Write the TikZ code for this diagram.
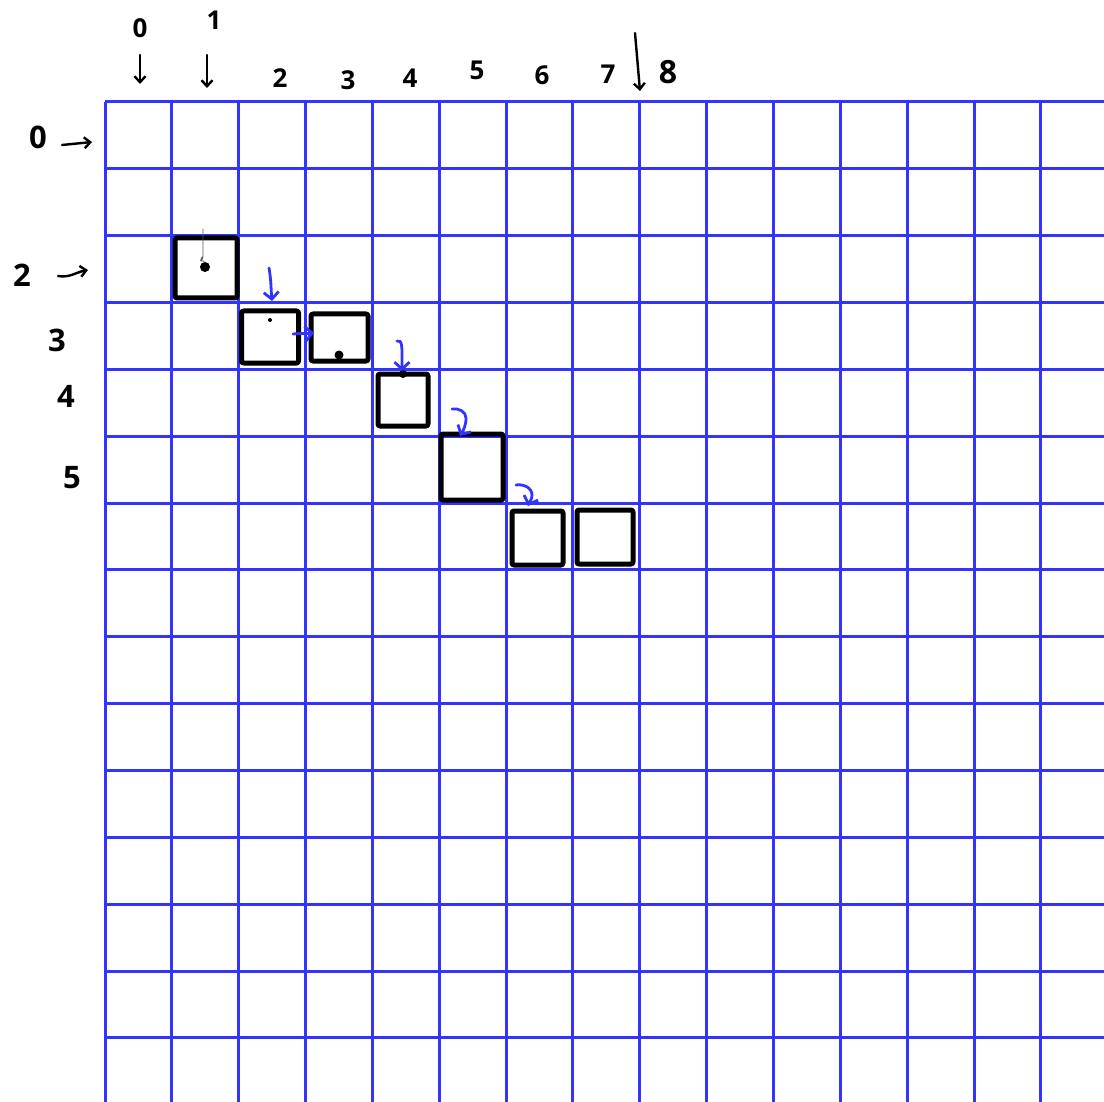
\documentclass[tikz,border=0pt]{standalone}
\usepackage{fontspec}
\setmainfont{Open Sans}
\usetikzlibrary{arrows.meta}
\definecolor{gridblue}{RGB}{51,51,255}
\tikzset{
  gridline/.style={draw=gridblue, line width=3pt},
  box/.style={draw=black, line width=5pt, inner sep=0pt, rounded corners=2pt, line join=round},
  bluearrow/.style={draw=gridblue, line width=2.8pt, line cap=round, -{Straight Barb[length=7pt,width=15pt,line width=2.8pt]}},
  blackarrow/.style={draw=black, line width=2.4pt, line cap=round, -{Straight Barb[length=6pt,width=11pt,line width=2.4pt]}},
  thinarrow/.style={draw=gray!70!black, line width=0.9pt, -{Straight Barb[length=3pt,width=5pt]}},
  lbl/.style={font=\fontsize{31}{31}\selectfont\bfseries, inner sep=0pt},
  toplbl/.style={font=\fontsize{26}{26}\selectfont\bfseries, inner sep=0pt},
}
\begin{document}
\begin{tikzpicture}[x=1pt,y=-1pt]
\useasboundingbox[fill=white] (0,0) rectangle (1104,1102);
% grid
\foreach \i in {0,...,14} {
  \draw[gridline] ({105+66.85*\i},102) -- ({105+66.85*\i},1102);
  \draw[gridline] (105,{102+66.85*\i}) -- (1104,{102+66.85*\i});
}
% boxes
\node[box, minimum width=62pt, minimum height=60pt] (A) at (206,268) {};
\node[box, minimum width=57pt, minimum height=52pt] (B) at (270,337) {};
\node[box, minimum width=57pt, minimum height=47pt] (C) at (339.5,337.5) {};
\node[box, minimum width=50pt, minimum height=52pt] (D) at (403,400) {};
\node[box, minimum width=62pt, minimum height=66pt] (E) at (472,467) {};
\node[box, minimum width=51pt, minimum height=54pt] (F) at (537.5,538) {};
\node[box, minimum width=56pt, minimum height=54pt] (G) at (605,537) {};
% dots
\fill (205,267) circle (5pt);
\fill (270,320) circle (2pt);
\fill (339,355) circle (4.5pt);
\fill (403,374) circle (4pt);
% thin arrow inside A
\coordinate (a0) at (203,229);
\coordinate (a1) at (200,261);
\draw[thinarrow] (a0) -- (203,256) to[out=-90,in=30] (a1);
% blue arrows
\coordinate (b0) at (269,268);
\coordinate (b1) at (272,301);
\draw[bluearrow] (b0) to[out=-80,in=95] (b1);
\coordinate (c0) at (293,334);
\coordinate (c1) at (314,333);
\draw[bluearrow] (c0) to[out=5,in=185] (c1);
\coordinate (d0) at (397,341);
\coordinate (d1) at (402,371);
\draw[bluearrow] (d0) to[out=20,in=90] (402,355) -- (d1);
\coordinate (e0) at (452,409);
\coordinate (e1) at (460,436);
\draw[bluearrow] (e0) to[out=10,in=90] (466,418) to[out=-90,in=60] (e1);
\coordinate (f0) at (516,485);
\coordinate (f1) at (528,506);
\draw[bluearrow] (f0) to[out=10,in=90] (532,495) to[out=-90,in=70] (f1);
% top labels
\node[toplbl] (t0) at (140,28) {0};
\node[toplbl] (t1) at (214,20) {1};
\node[toplbl] (t2) at (280,78) {2};
\node[toplbl] (t3) at (348,80) {3};
\node[toplbl] (t4) at (410,78) {4};
\node[toplbl] (t5) at (477,70) {5};
\node[toplbl] (t6) at (542,75) {6};
\node[toplbl] (t7) at (608,74) {7};
\node[toplbl, font=\fontsize{32}{32}\selectfont\bfseries] (t8) at (668,72) {8};
\coordinate (ta0) at (140,55);
\coordinate (ta1) at (140,84);
\draw[blackarrow] (ta0) -- (ta1);
\coordinate (tb0) at (207,55);
\coordinate (tb1) at (207,88);
\draw[blackarrow] (tb0) -- (tb1);
\coordinate (tc0) at (635,33);
\coordinate (tc1) at (640,91);
\draw[blackarrow] (tc0) -- (tc1);
% left labels
\node[lbl] (l0) at (38,137) {0};
\node[lbl] (l2) at (22,275) {2};
\node[lbl] (l3) at (57,340) {3};
\node[lbl] (l4) at (66,396) {4};
\node[lbl] (l5) at (72,478) {5};
\coordinate (la0) at (62,145);
\coordinate (la1) at (92,142);
\draw[blackarrow] (la0) -- (la1);
\coordinate (lb0) at (58,276);
\coordinate (lb1) at (88,270);
\draw[blackarrow] (lb0) to[out=-10,in=190] (lb1);
\end{tikzpicture}
\end{document}
